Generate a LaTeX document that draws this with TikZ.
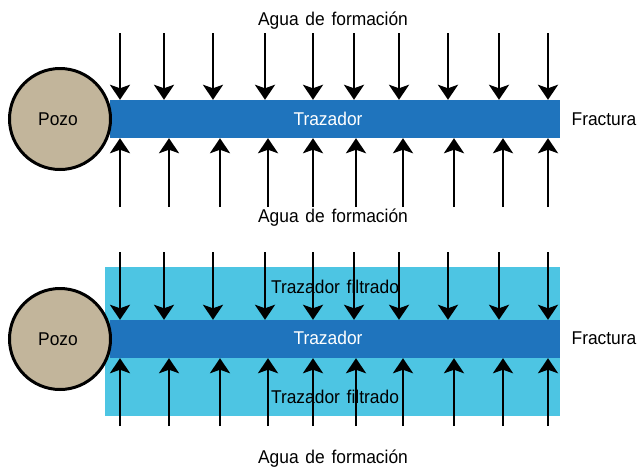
\documentclass[tikz,border=0pt]{standalone}
\usepackage{fontspec}
\setmainfont[FakeStretch=0.94, WordSpace=1.4]{Liberation Sans}
\usetikzlibrary{arrows.meta}
\definecolor{welltan}{HTML}{C2B59B}
\definecolor{tracerblue}{HTML}{1F74BD}
\definecolor{filtblue}{HTML}{4DC5E3}
\begin{document}
\begin{tikzpicture}[x=1pt,y=-1pt,
  lbl/.style={font=\fontsize{18.5}{22}\selectfont, inner sep=0pt},
  wellnode/.style={circle, draw=black, line width=3pt, fill=welltan, minimum size=101pt, inner sep=0pt},
  barnode/.style={fill=tracerblue, minimum width=450pt, minimum height=38pt, inner sep=0pt},
  filtnode/.style={fill=filtblue, minimum width=455pt, minimum height=149pt, inner sep=0pt},
  flow/.style={line width=2.7pt, -{Stealth[length=15pt,width=20pt,inset=3.5pt]}}]
\useasboundingbox (0,0) rectangle (640,467);

% ---------- top panel ----------
\node[barnode] (bar1) at (335,119) {};
\node[wellnode] (pozo1) at (60,119) {};
\node[lbl, anchor=base] (pozot1) at (58,125) {Pozo};
\node[lbl, anchor=base, text=white] (traz1) at (328,125) {Trazador};
\node[lbl, anchor=base] (frac1) at (604,125) {Fractura};
\node[lbl, anchor=base] (agua1) at (333,25.5) {Agua de formación};
\node[lbl, anchor=base] (agua2) at (333,222) {Agua de formación};

\foreach \x [count=\i] in {120,164,213,265,313,354,399,448,499,548}
  { \coordinate (ta\i) at (\x,33); \draw[flow] (ta\i) -- (ta\i |- bar1.north); }
\foreach \x [count=\i] in {120,169,220,268,313,356,403,454,503,548}
  { \coordinate (ba\i) at (\x,207); \draw[flow] (ba\i) -- (ba\i |- bar1.south); }

% ---------- bottom panel ----------
\node[filtnode] (filt) at (332.5,341.5) {};
\node[barnode] (bar2) at (335,339) {};
\node[wellnode] (pozo2) at (60,339) {};
\node[lbl, anchor=base] (pozot2) at (58,345) {Pozo};
\node[lbl, anchor=base, text=white] (traz2) at (328,344.5) {Trazador};
\node[lbl, anchor=base] (frac2) at (604,344) {Fractura};
\node[lbl, anchor=base] (filt1) at (335,293) {Trazador filtrado};
\node[lbl, anchor=base] (filt2) at (335,403) {Trazador filtrado};
\node[lbl, anchor=base] (agua3) at (333,463) {Agua de formación};

\foreach \x [count=\i] in {120,164,213,265,313,354,399,448,499,548}
  { \coordinate (tb\i) at (\x,252); \draw[flow] (tb\i) -- (tb\i |- bar2.north); }
\foreach \x [count=\i] in {120,169,220,268,313,356,403,454,503,548}
  { \coordinate (bb\i) at (\x,426); \draw[flow] (bb\i) -- (bb\i |- bar2.south); }
\end{tikzpicture}
\end{document}
